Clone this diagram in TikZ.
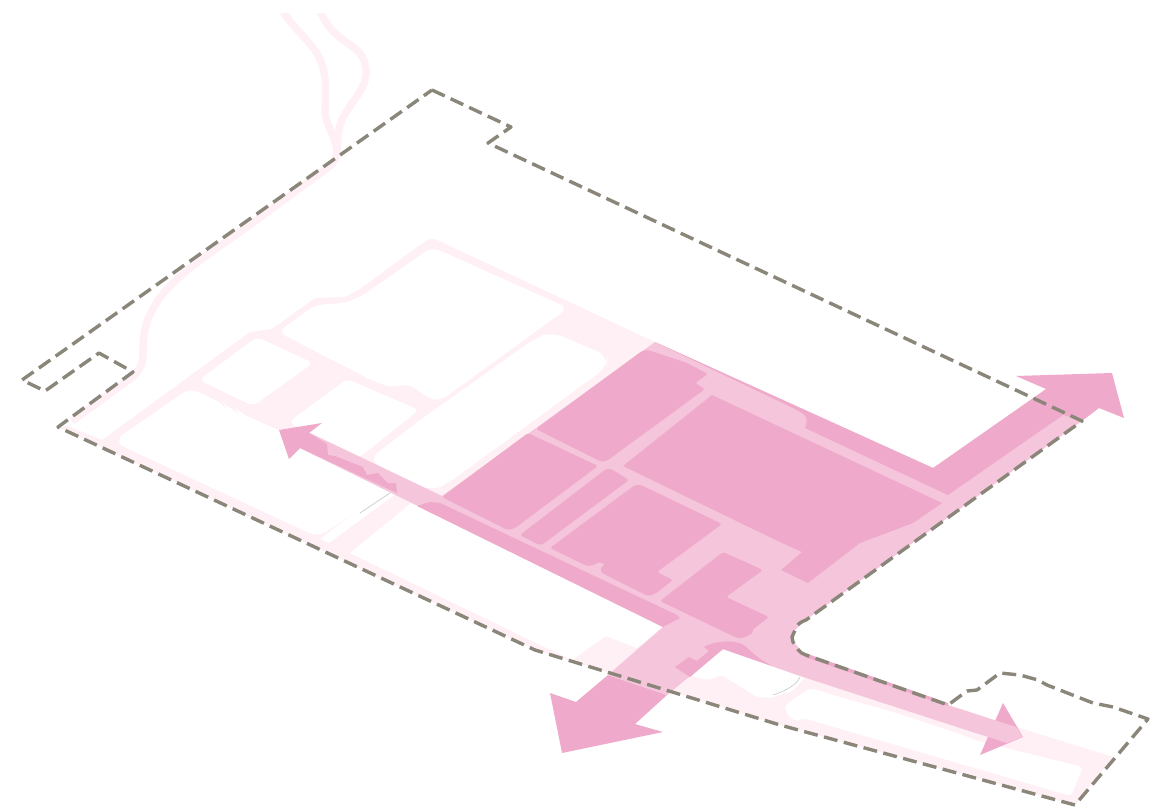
\documentclass[tikz,border=0pt]{standalone}
\definecolor{pkdark}{HTML}{EFA9CA}
\definecolor{pklight}{HTML}{F5C5DB}
\definecolor{pkpale}{HTML}{FFF0F5}
\definecolor{bound}{HTML}{8A8679}
\tikzset{
  pale/.style={fill=pkpale,draw=none},
  hole/.style={fill=white,draw=none,rounded corners=#1},
  hole/.default=6pt,
  paleroad/.style={draw=pkpale,line width=7.5pt,line join=round,fill=none},
  lightarea/.style={fill=pklight,draw=none},
  darkarea/.style={fill=pkdark,draw=none},
  block/.style={fill=pkdark,draw=none,rounded corners=#1},
  block/.default=2.5pt,
  thinline/.style={draw=black!22,line width=0.6pt},
  site/.style={draw=bound,line width=3.4pt,line cap=butt,line join=round,dash pattern=on 14pt off 6.5pt}
}
\begin{document}
\begin{tikzpicture}[x=1pt,y=-1pt]
\useasboundingbox (0,0) rectangle (1157,807);
% pale ground
\path[pale] (68,426) -- (102,440) -- (250,332) -- (272,329) -- (315,298) -- (345,297) -- (360,289) -- (424,242) .. controls (428,239) and (432,238) .. (437,240) -- (655,342) -- (723,649) -- (1017,727) -- (1113,757) -- (1075,805) -- (780,725) -- (535,650) -- (58,427) -- cycle;
% streams and left road
\begin{scope}
\clip (0,13) rectangle (1157,807);
\draw[paleroad] (281,8) .. controls (292,28) and (310,40) .. (319,57) .. controls (328,75) and (325,95) .. (325,110) .. controls (325,125) and (335,135) .. (337,150) .. controls (337,160) and (332,165) .. (322,172) -- (247,227) .. controls (200,260) and (170,280) .. (155,305) .. controls (145,322) and (143,335) .. (143,352) .. controls (143,368) and (138,372) .. (130,379) -- (72,421);
\draw[paleroad] (319,8) .. controls (327,30) and (340,38) .. (353,47) .. controls (366,56) and (370,72) .. (362,88) .. controls (355,100) and (345,112) .. (341,122) .. controls (338,130) and (338,140) .. (337,150);
\end{scope}
% white blocks
\path[hole=9pt] (115,440) -- (190,388) -- (224,404) -- (226,409) -- (236,409) -- (238,412) -- (285,433) -- (395,486) -- (318,537) -- (124,447) -- cycle;
\path[hole] (199,380) -- (257,337) -- (313,363) -- (253,406) -- cycle;
\path[hole=5pt] (289,422) -- (347,379) -- (419,410) -- (361,456) -- (350,460) -- cycle;
\path[hole=8pt] (278,332) -- (315,305) -- (345,303) -- (362,296) -- (432,247) -- (568,308) -- (440,401) -- (428,398) -- (415,388) -- (405,383) -- (395,388) -- (375,382) -- cycle;
\path[hole=12pt] (368,460) -- (423,418) -- (537,337) -- (552,332) -- (608,356) -- (607,367) -- (447,484) -- (430,491) -- cycle;
\path[hole=1.5pt] (320,539) -- (329,543) -- (397,493) -- (388,487) -- cycle;
\path[hole=0.5pt] (350,553) -- (415,500) -- (663,627) -- (637,648) -- (606,636) -- (572,660) -- (530,640) -- cycle;
\path[hole=2pt] (723,649) -- (805,677) -- (793,691) -- (770,698) -- (757,697) -- (722,675) -- (708,680) -- (695,677) -- (685,672) -- cycle;
\path[hole=4pt] (1083,767) -- (1071,796) -- (803,718) -- (797,722) -- (786,714) -- (785,705) -- (810,688) -- (850,700) -- (893,712) -- (960,734) -- (977,741) -- cycle;
\draw[thinline] (360,513) -- (390,493);
\draw[thinline] (773,695) .. controls (785,691) and (797,685) .. (800,677);
% east arrowhead below its light shaft
\path[darkarea] (1003,703) -- (1023,737) -- (980,755) -- cycle;
% south arrow, part beyond the site
\path[darkarea] (608,675) -- (576,702) -- (550,693) -- (562,753) -- (663,732) -- (635,724) -- (667,695) -- cycle;
% light base
\path[lightarea] (655,342) -- (933,468) -- (1063,415) -- (1082,421) -- (803,622) -- (793,632) -- (792,640) -- (805,655) -- (948,705) -- (1016,727) -- (1023,737) -- (1007,743) -- (960,728) -- (797,675) -- (723,649) -- (667,695) -- (608,675) -- (663,627) -- (430,512) -- (442,496) -- cycle;
% west arrow shaft
\path[lightarea] (310,433) -- (442,496) -- (430,512) -- (300,448) -- cycle;
\path[darkarea] (279,430) -- (322,423) -- (309,433) -- (327,444) -- (328,455) -- (335,456) -- (363,467) -- (367,475) -- (378,473) -- (388,483) -- (396,483) -- (397,493) -- (300,448) -- (289,459) -- cycle;
% north-east arrow and upper band
\path[darkarea] (655,342) -- (933,468) -- (1046,389) -- (1016,376) -- (1112,373) -- (1124,418) -- (1099,408) -- (1082,421) -- (1063,415) -- (948,495) -- (805,428) -- (807,420) .. controls (806,414) and (800,412) .. (793,408) -- cycle;
% band along the west arrow
\path[darkarea] (417,506) -- (430,502) -- (440,503) -- (677,615) -- (680,618) -- (663,627) -- cycle;
% sliver under the site line
\path[darkarea] (805,653) -- (948,703) -- (948,706) -- (805,657) -- cycle;
% dark patch
\path[darkarea] (675,667) -- (689,657) -- (697,661) -- (709,651) -- (704,647) .. controls (712,642) and (735,638) .. (745,646) .. controls (752,652) and (757,658) .. (772,666) -- (723,649) -- (690,677) -- cycle;
% blocks
\path[block] (536,429) -- (642,351) -- (648,350) -- (687,363) -- (708,374) -- (695,383) -- (705,389) -- (608,460) -- (602,462) -- cycle;
\path[darkarea] (712,395) -- (942,503) -- (913,523) -- (860,543) -- (808,583) -- (781,570) -- (802,552) -- (782,543) -- (755,530) -- (623,466) -- cycle;
\path[block] (528,433) -- (598,466) -- (515,528) -- (508,530) -- (442,497) -- cycle;
\path[block] (606,469) -- (611,469) -- (629,480) -- (543,544) -- (539,545) -- (520,535) -- cycle;
\path[block] (635,485) -- (641,485) -- (722,524) -- (657,572) -- (673,580) -- (655,594) -- (648,596) -- (602,573) -- (600,569) -- (605,564) -- (598,562) -- (594,565) -- (587,566) -- (550,548) -- cycle;
\path[block] (723,552) -- (763,570) -- (726,597) -- (769,617) -- (752,630) -- (753,633) -- (743,638) -- (737,638) -- (660,601) -- cycle;
% site boundary
\draw[site] (432,90) -- (511,127) -- (488,143) -- (1082,421) -- (806,620) .. controls (800,622) and (797,625) .. (796,628) -- (792,637) -- (793,642) .. controls (797,648) and (799,653) .. (806,655) -- (948,705) -- (967,691) -- (977,690) -- (1000,673) -- (1020,675) -- (1038,680) -- (1047,685) -- (1093,703) -- (1113,707) -- (1148,719) -- (1075,805) -- (780,725) -- (535,650) -- (58,427) -- (133,372) -- (99,353) -- (45,391) -- (22,380) -- cycle;
\end{tikzpicture}
\end{document}
